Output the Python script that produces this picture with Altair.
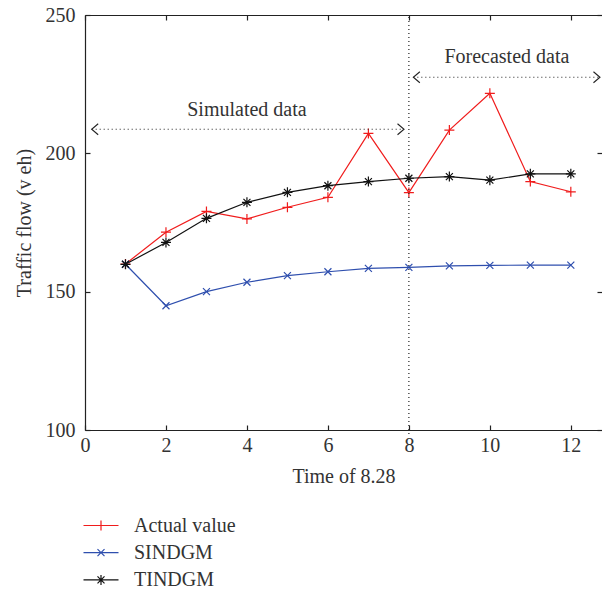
import altair as alt
import pandas as pd

# ---------------- data ----------------
time = list(range(1, 13))
actual = [160.0, 171.5, 179.0, 176.3, 180.5, 184.1, 207.2, 185.8, 208.4, 221.7, 189.8, 186.1]
sindgm = [159.9, 144.9, 150.0, 153.4, 155.8, 157.2, 158.4, 158.8, 159.3, 159.5, 159.6, 159.6]
tindgm = [159.9, 167.8, 176.5, 182.3, 185.9, 188.3, 189.8, 191.0, 191.6, 190.3, 192.6, 192.6]

series_names = ["Actual value", "SINDGM", "TINDGM"]
series_colors = ["#f01c1c", "#2f4fae", "#111111"]

x_ticks = [0, 2, 4, 6, 8, 10, 12]
y_ticks = [100, 150, 200, 250]

divider_x = [8]
divider_top = [249.3]
divider_bottom = [98.2]

arrow_starts = [0.165, 8.11]
arrow_ends = [7.88, 12.72]
arrow_levels = [208.7, 227.5]

note_text = ["Simulated data", "Forecasted data"]
note_x = [4.0, 10.42]
note_y = [213.4, 232.5]

# ---------------- styles ----------------
FONT = "Liberation Serif"
FS = 20
TXT = "#333333"
AX = "#222222"

marker_paths = [
    "M-1,0H1M0,-1V1",
    "M-0.7,-0.7L0.7,0.7M-0.7,0.7L0.7,-0.7",
    "M-1,0H1M0,-1V1M-0.7,-0.7L0.7,0.7M-0.7,0.7L0.7,-0.7",
]
legend_paths = [
    "M-3.5,0H3.5M0,-1V1",
    "M-3.5,0H3.5M-0.7,-0.7L0.7,0.7M-0.7,0.7L0.7,-0.7",
    "M-3.5,0H3.5M0,-1V1M-0.7,-0.7L0.7,0.7M-0.7,0.7L0.7,-0.7",
]
left_head = "M1.3,-1.1L0,0L1.3,1.1"
right_head = "M-1.3,-1.1L0,0L-1.3,1.1"

rows = []
for name, vals in zip(series_names, [actual, sindgm, tindgm]):
    for t, v in zip(time, vals):
        rows.append({"t": t, "v": v, "series": name})
df = pd.DataFrame(rows)

vrule_df = pd.DataFrame({"x": divider_x, "y": divider_top, "y2": divider_bottom})
arrow_df = pd.DataFrame({"x1": arrow_starts, "x2": arrow_ends, "y": arrow_levels})
note_df = pd.DataFrame({"x": note_x, "y": note_y, "text": note_text})

xscale = alt.Scale(domain=[0, 12.77], nice=False)
yscale = alt.Scale(domain=[100, 250], nice=False)

common_lbl = dict(labelFont=FONT, labelFontSize=FS, labelColor=TXT, labelFlush=False,
                  titleFont=FONT, titleFontSize=FS, titleFontWeight="normal",
                  titleColor=TXT, grid=False)

ax_bottom = alt.Axis(orient="bottom", values=x_ticks, format="d", domain=True,
                     domainColor=AX, domainWidth=1.2, ticks=False, tickSize=0,
                     labels=True, labelPadding=5, title="Time of 8.28",
                     titlePadding=11, **common_lbl)
ax_left = alt.Axis(orient="left", values=y_ticks, format="d", domain=True,
                   domainColor=AX, domainWidth=1.2, ticks=False, tickSize=0,
                   labels=True, labelPadding=10, title="Traffic flow (v eh)",
                   titlePadding=11, **common_lbl)
ax_top_dom = alt.Axis(orient="top", domain=True, domainColor=AX, domainWidth=1.2,
                      ticks=False, tickSize=0, labels=False, title=None, grid=False)
ax_right_ticks = alt.Axis(orient="right", offset=-5, values=y_ticks, domain=False,
                          ticks=True, tickSize=5, tickColor=AX, tickWidth=1.2,
                          labels=False, title=None, grid=False)
ax_bottom_ticks = alt.Axis(orient="bottom", offset=-5, values=x_ticks, domain=False,
                           ticks=True, tickSize=5, tickColor=AX, tickWidth=1.2,
                           labels=False, title=None, grid=False)
ax_left_ticks = alt.Axis(orient="left", offset=-5, values=y_ticks, domain=False,
                         ticks=True, tickSize=5, tickColor=AX, tickWidth=1.2,
                         labels=False, title=None, grid=False)
ax_top_ticks = alt.Axis(orient="top", offset=-5, values=x_ticks, domain=False,
                        ticks=True, tickSize=5, tickColor=AX, tickWidth=1.2,
                        labels=False, title=None, grid=False)

color_scale = alt.Scale(domain=series_names, range=series_colors)

legend = alt.Legend(orient="none", legendX=6, legendY=500.5, title=None,
                    labelFont=FONT, labelFontSize=FS, labelColor=TXT,
                    labelOffset=23, symbolSize=100, symbolStrokeWidth=1.2,
                    symbolOpacity=1, rowPadding=7.2, padding=0)

lines = alt.Chart(df).mark_line(strokeWidth=1.2).encode(
    x=alt.X("t:Q", scale=xscale, axis=ax_bottom),
    y=alt.Y("v:Q", scale=yscale, axis=ax_left),
    color=alt.Color("series:N", scale=color_scale, legend=None),
)

points = alt.Chart(df).mark_point(filled=False, size=100, strokeWidth=1.2, opacity=1).encode(
    x=alt.X("t:Q", scale=xscale, axis=ax_top_dom),
    y=alt.Y("v:Q", scale=yscale, axis=ax_right_ticks),
    color=alt.Color("series:N", scale=color_scale, legend=None),
    shape=alt.Shape("series:N", scale=alt.Scale(domain=series_names, range=marker_paths), legend=None),
)

vrule = alt.Chart(vrule_df).mark_rule(color=AX, strokeWidth=1.2, strokeDash=[1, 3]).encode(
    x=alt.X("x:Q", scale=xscale, axis=ax_bottom_ticks),
    y=alt.Y("y:Q", scale=yscale, axis=ax_left_ticks),
    y2="y2:Q",
)

arrows = alt.Chart(arrow_df).mark_rule(color=AX, strokeWidth=1.2, strokeDash=[1, 3]).encode(
    x=alt.X("x1:Q", scale=xscale, axis=ax_top_ticks),
    x2="x2:Q",
    y=alt.Y("y:Q", scale=yscale, axis=None),
)

lheads = alt.Chart(arrow_df).mark_point(shape=left_head, size=100, filled=False,
                                        color=AX, strokeWidth=1.1, opacity=1).encode(
    x=alt.X("x1:Q", scale=xscale, axis=None),
    y=alt.Y("y:Q", scale=yscale, axis=None),
)
rheads = alt.Chart(arrow_df).mark_point(shape=right_head, size=100, filled=False,
                                        color=AX, strokeWidth=1.1, opacity=1).encode(
    x=alt.X("x2:Q", scale=xscale, axis=None),
    y=alt.Y("y:Q", scale=yscale, axis=None),
)

notes = alt.Chart(note_df).mark_text(font=FONT, fontSize=FS, color=TXT,
                                     align="center", baseline="alphabetic").encode(
    x=alt.X("x:Q", scale=xscale, axis=None),
    y=alt.Y("y:Q", scale=yscale, axis=None),
    text="text:N",
)

legend_layer = alt.Chart(df).mark_point(filled=False, opacity=0).encode(
    color=alt.Color("series:N", scale=color_scale, legend=legend),
    shape=alt.Shape("series:N", scale=alt.Scale(domain=series_names, range=legend_paths), legend=legend),
)

chart = alt.layer(lines, points, vrule, arrows, lheads, rheads, notes, legend_layer).resolve_scale(
    color="independent", shape="independent"
).resolve_axis(
    x="independent", y="independent"
).properties(
    width=517, height=415,
    autosize=alt.AutoSizeParams(type="none"),
    padding={"left": 77, "top": 7, "right": 0, "bottom": 161},
    background="white",
).configure_view(stroke=None)

chart.save("out.html", embed_options={"renderer": "svg", "actions": False})
